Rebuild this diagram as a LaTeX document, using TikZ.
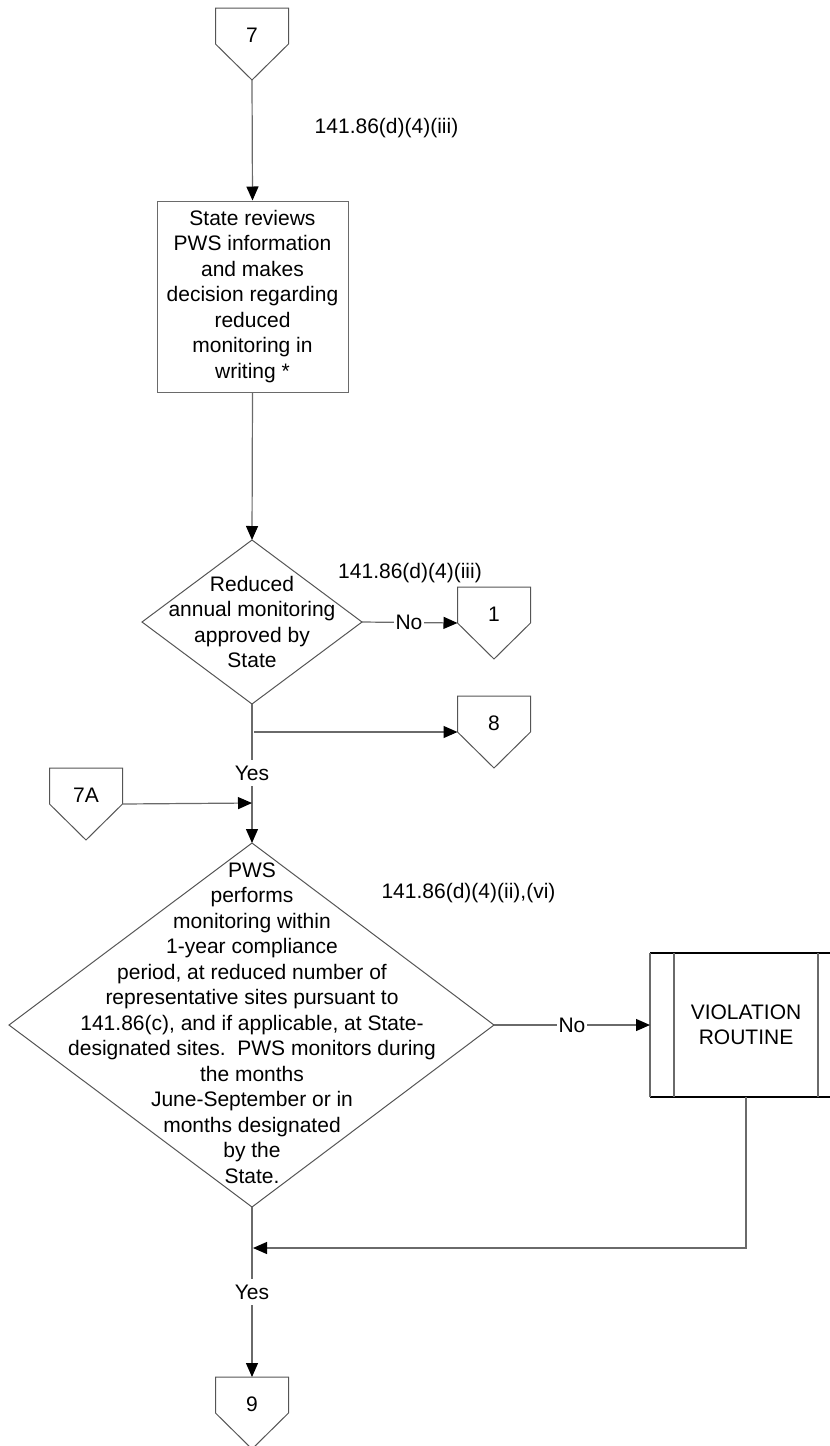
\documentclass[tikz,border=0pt]{standalone}
\usepackage{fontspec}
\setmainfont{Liberation Sans}
\usetikzlibrary{arrows.meta}
\definecolor{lncol}{HTML}{6A6A6A}
\newcommand{\offpage}[4]{% name, center x, top y, text
  \coordinate (#1-top) at (#2,#3);
  \coordinate (#1-lc) at (#2-36.5,#3+36);
  \coordinate (#1-rc) at (#2+36.5,#3+36);
  \coordinate (#1-tip) at (#2,#3+72);
  \draw[shp] (#2-36.5,#3) -- (#2+36.5,#3) -- (#1-rc) -- (#1-tip) -- (#1-lc) -- cycle;
  \node (#1) at (#2,#3+27) {#4};
}
\begin{document}
\begin{tikzpicture}[x=1pt,y=-1pt,
  every node/.style={font=\fontsize{21}{25.5}\selectfont, inner sep=0pt, align=center},
  ln/.style={draw=lncol, line width=1.2pt},
  arr/.style={ln, -{Triangle[length=14pt,width=12pt,color=black]}},
  shp/.style={draw=lncol!80!black, line width=1pt},
  lab/.style={fill=white, inner xsep=1.5pt, inner ysep=6pt}
]
\useasboundingbox (0,0) rectangle (830,1446);
\clip (0,0) rectangle (830,1446);

% off-page connectors
\offpage{c7}{252}{8}{7}
\offpage{c1}{494}{587}{1}
\offpage{c8}{494}{696}{8}
\offpage{c7a}{86}{768}{7A}
\offpage{c9}{252}{1377}{9}

% process box
\node[draw=lncol, line width=1pt, minimum width=191pt, minimum height=191pt] (box) at (252.5,296.5)
  {State reviews\\PWS information\\and makes\\decision regarding\\reduced\\monitoring in\\writing *};

% decision 1
\coordinate (d1-n) at (252,540);
\coordinate (d1-e) at (362,622);
\coordinate (d1-s) at (252,704);
\coordinate (d1-w) at (142,622);
\draw[shp] (d1-n) -- (d1-e) -- (d1-s) -- (d1-w) -- cycle;
\node (d1) at (252,622) {Reduced\\annual monitoring\\approved by\\State};

% decision 2
\coordinate (d2-n) at (252,843);
\coordinate (d2-e) at (494,1025);
\coordinate (d2-s) at (252,1207);
\coordinate (d2-w) at (9,1025);
\draw[shp] (d2-n) -- (d2-e) -- (d2-s) -- (d2-w) -- cycle;
\node (d2) at (252,1023) {PWS\\performs\\monitoring within\\1-year compliance\\period, at reduced number of\\representative sites pursuant to\\141.86(c), and if applicable, at State-\\designated sites.\ \ PWS monitors during\\the months\\June-September or in\\months designated\\by the\\State.};

% violation routine (predefined process)
\draw[line width=1.2pt, draw=black] (650,953) -- (842,953);
\draw[line width=1.2pt, draw=black] (650,1097) -- (842,1097);
\draw[ln] (650,953) -- (650,1097);
\draw[ln] (674,953) -- (674,1097);
\draw[ln] (818,953) -- (818,1097);
\draw[ln] (842,953) -- (842,1097);
\node (vr) at (746,1025) {VIOLATION\\ROUTINE};
\coordinate (vr-w) at (650,1025);
\coordinate (vr-s) at (746,1097);

% reference labels
\node (r1) at (386.5,128) {141.86(d)(4)(iii)};
\node (r2) at (410,573) {141.86(d)(4)(iii)};
\node (r3) at (468.5,893) {141.86(d)(4)(ii),(vi)};

% connectors
\draw[arr] (c7-tip) -- (box.north);
\draw[arr] (box.south) -- (d1-n);
\draw[arr] (d1-e) -- (c1-lc);
\node[lab] (no1) at (409,622) {No};
\draw[arr] (d1-s) -- (d2-n);
\coordinate (br8) at (254,732);
\draw[arr] (br8) -- (c8-lc);
\node[lab] (yes1) at (252,773) {Yes};
\coordinate (j7a) at (252,803);
\draw[arr] (c7a-rc) -- (j7a);
\draw[arr] (d2-e) -- (vr-w);
\node[lab] (no2) at (572,1025) {No};
\coordinate (vrc) at (746,1248);
\coordinate (j2) at (253,1248);
\draw[arr] (vr-s) -- (vrc) -- (j2);
\draw[arr] (d2-s) -- (c9-top);
\node[lab] (yes2) at (252,1292) {Yes};
\end{tikzpicture}
\end{document}
